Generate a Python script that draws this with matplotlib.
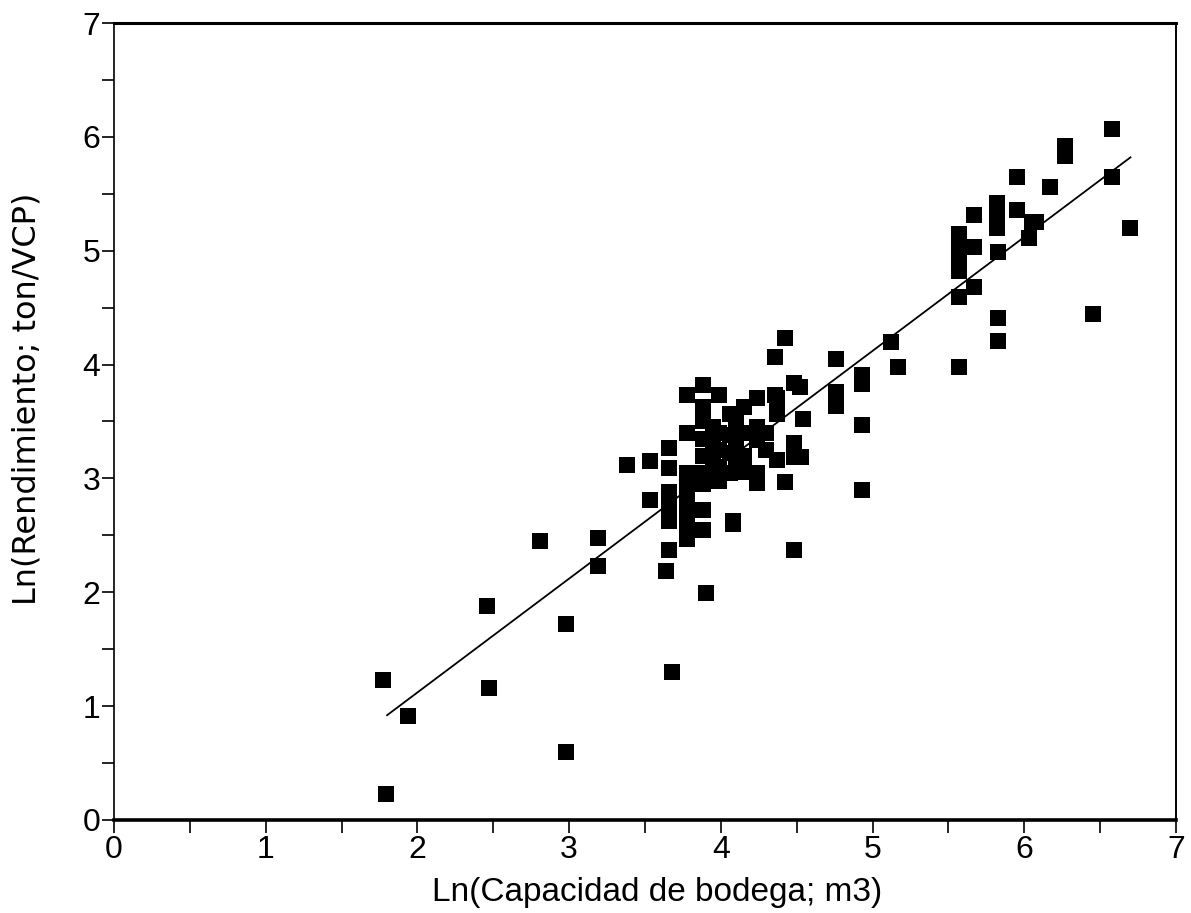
import matplotlib
matplotlib.use("Agg")
import matplotlib.pyplot as plt
from matplotlib.ticker import MultipleLocator

plt.rcParams['font.family'] = ['Liberation Sans', 'DejaVu Sans']

# Ln(capacidad de bodega) and Ln(rendimiento)
cap_x = [
    1.77, 1.79, 1.94, 2.46, 2.47, 2.81, 2.98, 2.98, 3.19, 3.19,
    3.38, 3.53, 3.53, 3.66, 3.66, 3.66, 3.66, 3.66, 3.66, 3.64, 3.68,
    3.78, 3.78, 3.78, 3.78, 3.78, 3.78, 3.78, 3.78, 3.78,
    3.88, 3.88, 3.88, 3.88, 3.88, 3.88, 3.88, 3.88, 3.88, 3.90,
    3.95, 3.95, 3.95, 3.95,
    3.99, 3.99, 3.99, 3.99, 3.99,
    4.06, 4.06, 4.06, 4.06, 4.08, 4.08,
    4.10, 4.10, 4.10, 4.10,
    4.15, 4.15, 4.15, 4.15,
    4.24, 4.24, 4.24, 4.24, 4.24,
    4.30, 4.30,
    4.36, 4.36, 4.37, 4.37, 4.37, 4.42, 4.42,
    4.48, 4.48, 4.48, 4.48, 4.52, 4.53, 4.54,
    4.76, 4.76, 4.76, 4.93, 4.93, 4.93, 4.93,
    5.12, 5.17,
    5.57, 5.57, 5.57, 5.57, 5.57, 5.57, 5.57,
    5.67, 5.67, 5.67,
    5.82, 5.82, 5.82, 5.83, 5.83, 5.83,
    5.95, 5.95, 6.05, 6.08, 6.03, 6.17,
    6.27, 6.27, 6.45, 6.58, 6.58, 6.70,
]
rend_y = [
    1.23, 0.23, 0.91, 1.88, 1.16, 2.45, 1.72, 0.60, 2.48, 2.23,
    3.12, 3.15, 2.81, 3.27, 3.09, 2.88, 2.75, 2.63, 2.37, 2.19, 1.30,
    3.73, 3.40, 3.05, 2.97, 2.88, 2.80, 2.70, 2.57, 2.47,
    3.82, 3.63, 3.50, 3.35, 3.20, 3.05, 2.95, 2.72, 2.55, 1.99,
    3.45, 3.30, 3.15, 3.00,
    3.73, 3.40, 3.25, 3.10, 2.98,
    3.57, 3.38, 3.22, 3.05, 2.63, 2.60,
    3.50, 3.30, 3.15, 3.06,
    3.63, 3.40, 3.20, 3.06,
    3.71, 3.45, 3.34, 3.05, 2.96,
    3.40, 3.25,
    4.07, 3.73, 3.71, 3.57, 3.16, 4.23, 2.97,
    3.84, 3.31, 3.19, 2.37, 3.80, 3.19, 3.52,
    4.05, 3.76, 3.64, 3.91, 3.83, 3.47, 2.90,
    4.20, 3.98,
    5.15, 5.03, 4.95, 4.82, 4.59, 3.98, 4.99,
    5.31, 5.03, 4.68,
    5.42, 5.31, 5.20, 4.99, 4.41, 4.21,
    5.65, 5.36, 5.25, 5.25, 5.11, 5.56,
    5.92, 5.83, 4.44, 6.07, 5.65, 5.20,
]

# fitted regression line end points
fit_x = [1.80, 6.70]
fit_y = [0.92, 5.82]

x_ticks = [0, 1, 2, 3, 4, 5, 6, 7]
y_ticks = [0, 1, 2, 3, 4, 5, 6, 7]

fig = plt.figure(figsize=(11.91, 9.13), dpi=100)
ax = fig.add_axes([0.0957, 0.1019, 0.8917, 0.8729])

ax.plot(cap_x, rend_y, linestyle='none', marker='s', markersize=11.5,
        color='black', markeredgewidth=0)
ax.plot(fit_x, fit_y, color='black', linewidth=1.3)

ax.set_xlim(0, 7)
ax.set_ylim(0, 7)
ax.set_xticks(x_ticks)
ax.set_yticks(y_ticks)
ax.xaxis.set_minor_locator(MultipleLocator(0.5))
ax.yaxis.set_minor_locator(MultipleLocator(0.5))
ax.tick_params(axis='both', which='both', direction='out', length=9,
               width=1.2, labelsize=23, top=False, right=False, color='black')
ax.tick_params(axis='x', pad=2)
ax.tick_params(axis='y', pad=1)

ax.spines['bottom'].set_linewidth(2.6)
ax.spines['top'].set_linewidth(2.2)
ax.spines['left'].set_linewidth(1.2)
ax.spines['right'].set_linewidth(1.4)

ax.set_xlabel('Ln(Capacidad de bodega; m3)', fontsize=24)
ax.xaxis.set_label_coords(0.511, -0.072)
ax.set_ylabel('Ln(Rendimiento; ton/VCP)', fontsize=23,
              family=['DejaVu Sans'])
ax.yaxis.set_label_coords(-0.067, 0.528)

fig.savefig('out.png', dpi=100, facecolor='white')
